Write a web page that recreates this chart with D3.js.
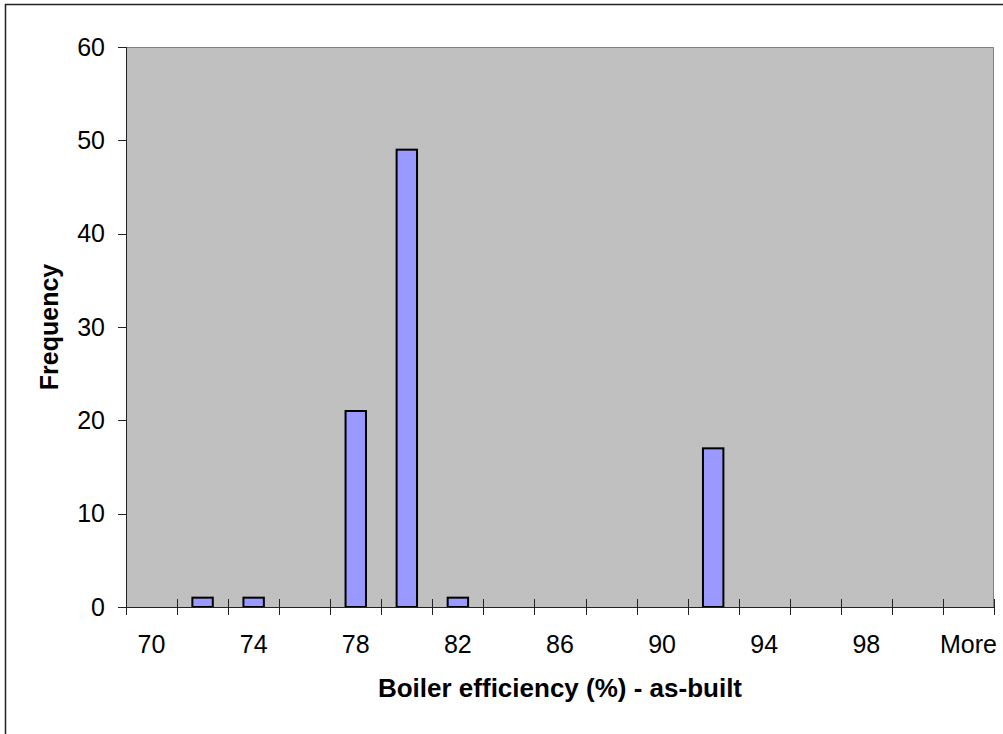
<!DOCTYPE html>
<html>
<head>
<meta charset="utf-8">
<script src="https://cdn.jsdelivr.net/npm/d3@7"></script>
<style>
  body { margin: 0; background: #fff; }
  svg { display: block; font-family: "Liberation Sans", Arial, sans-serif; }
</style>
</head>
<body>
<svg width="1003" height="734"></svg>
<script>
const categories = ["70", "72", "74", "76", "78", "80", "82", "84", "86", "88",
  "90", "92", "94", "96", "98", "100", "More"];
const frequency = [0, 1, 1, 0, 21, 49, 1, 0, 0, 0, 0, 17, 0, 0, 0, 0, 0];
const xTickLabels = ["70", "74", "78", "82", "86", "90", "94", "98", "More"];
const yTicks = [0, 10, 20, 30, 40, 50, 60];

function drawChart() {
  const svg = d3.select("svg");
  const width = +svg.attr("width");
  const height = +svg.attr("height");
  const margin = { top: 47, right: 9, bottom: 127, left: 126 };
  const plotW = width - margin.left - margin.right;
  const plotH = height - margin.top - margin.bottom;

  // chart area border (cropped on the right and bottom)
  svg.append("rect")
    .attr("x", 5.5)
    .attr("y", 4.5)
    .attr("width", width + 20)
    .attr("height", height + 20)
    .attr("fill", "none")
    .attr("stroke", "#222")
    .attr("stroke-width", 1.5);

  const g = svg.append("g")
    .attr("transform", `translate(${margin.left},${margin.top})`);

  const x = d3.scaleBand()
    .domain(categories)
    .range([0, plotW])
    .paddingInner(0.6)
    .paddingOuter(0.3);

  const y = d3.scaleLinear()
    .domain([0, 60])
    .range([plotH, 0]);

  const step = x.step();
  const firstEdge = x(categories[0]) - step * 0.3;

  g.append("rect")
    .attr("width", plotW)
    .attr("height", plotH)
    .attr("fill", "#c0c0c0");

  // top and right plot border
  g.append("path")
    .attr("d", `M0,0.5H${plotW - 0.5}V${plotH}`)
    .attr("fill", "none")
    .attr("stroke", "#808080")
    .attr("stroke-width", 1);

  g.selectAll("rect.bar")
    .data(frequency)
    .join("rect")
    .attr("class", "bar")
    .attr("x", (d, i) => x(categories[i]))
    .attr("y", d => y(d))
    .attr("width", x.bandwidth())
    .attr("height", d => plotH - y(d))
    .attr("fill", (d) => d > 0 ? "#9999ff" : "none")
    .attr("stroke", (d) => d > 0 ? "#000" : "none")
    .attr("stroke-width", 2);

  // y axis
  g.append("line")
    .attr("x1", 0.5).attr("x2", 0.5)
    .attr("y1", 0).attr("y2", plotH)
    .attr("stroke", "#222");

  g.selectAll("line.ytick")
    .data(yTicks)
    .join("line")
    .attr("class", "ytick")
    .attr("x1", -8).attr("x2", 0)
    .attr("y1", d => Math.round(y(d)) + 0.5)
    .attr("y2", d => Math.round(y(d)) + 0.5)
    .attr("stroke", "#222");

  g.selectAll("text.ylab")
    .data(yTicks)
    .join("text")
    .attr("class", "ylab")
    .attr("x", -21)
    .attr("y", d => y(d) + 8.5)
    .attr("text-anchor", "end")
    .attr("font-size", 25)
    .text(d => d);

  // x axis
  g.append("line")
    .attr("x1", -8).attr("x2", plotW)
    .attr("y1", plotH + 0.5).attr("y2", plotH + 0.5)
    .attr("stroke", "#222");

  g.selectAll("line.xtick")
    .data(d3.range(categories.length + 1))
    .join("line")
    .attr("class", "xtick")
    .attr("x1", i => Math.round(firstEdge + i * step) + 0.5)
    .attr("x2", i => Math.round(firstEdge + i * step) + 0.5)
    .attr("y1", plotH - 8)
    .attr("y2", plotH + 8)
    .attr("stroke", "#222");

  g.selectAll("text.xlab")
    .data(xTickLabels)
    .join("text")
    .attr("class", "xlab")
    .attr("x", d => x(d) + x.bandwidth() / 2)
    .attr("y", plotH + 46)
    .attr("text-anchor", "middle")
    .attr("font-size", 25)
    .text(d => d);

  // axis titles
  g.append("text")
    .attr("x", plotW / 2)
    .attr("y", plotH + 90)
    .attr("text-anchor", "middle")
    .attr("font-size", 26)
    .attr("font-weight", "bold")
    .text("Boiler efficiency (%) - as-built");

  g.append("text")
    .attr("transform", `translate(${58 - margin.left},${plotH / 2}) rotate(-90)`)
    .attr("text-anchor", "middle")
    .attr("font-size", 25)
    .attr("font-weight", "bold")
    .text("Frequency");
}

window.onload = drawChart;
</script>
</body>
</html>
